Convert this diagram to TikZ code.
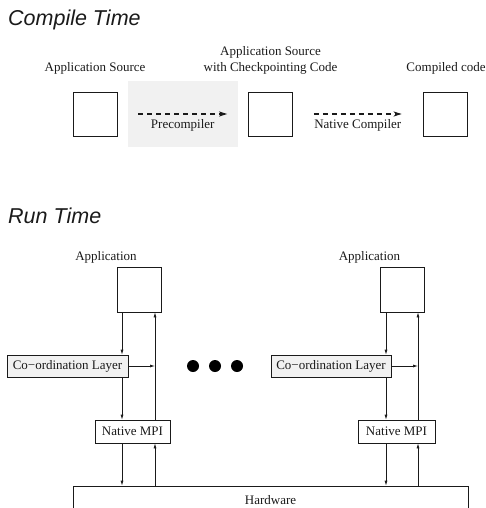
\documentclass[tikz,border=0pt]{standalone}
\usepackage{fontspec}
\setmainfont{Liberation Serif}
\newfontfamily\headfont{Liberation Sans}
\usetikzlibrary{arrows.meta,positioning}
\definecolor{shade}{HTML}{F1F1F1}
\definecolor{ink}{HTML}{1A1A1A}

\begin{document}
\begin{tikzpicture}[x=1pt,y=-1pt,
  every node/.style={font=\fontsize{13}{16}\selectfont,text=ink},
  file/.style={draw=ink,line width=0.7pt,minimum width=44pt,minimum height=44pt,inner sep=0pt},
  layer/.style={draw=ink,line width=0.7pt,inner sep=0pt,minimum height=22pt},
  caption/.style={inner sep=0pt,align=center},
  head/.style={anchor=base west,inner sep=0pt,font=\headfont\itshape\fontsize{21.5}{24}\selectfont},
  dot/.style={circle,fill=black,minimum size=12pt,inner sep=0pt},
  pass/.style={-{Stealth[length=8pt,width=5pt,inset=2pt]},draw=ink,line width=1.4pt,dash pattern=on 5pt off 4pt,shorten <=21pt,shorten >=21pt},
  arrow/.style={-{Latex[length=5pt,width=3pt]},draw=ink,line width=0.7pt}
]
  \useasboundingbox (0,0) rectangle (486,508);

  % compile time
  \node[head] (ct) at (8,26) {Compile Time};
  \node[fill=shade,minimum width=110pt,minimum height=66pt] (pre) at (183,114) {};
  \node[file] (src) at (95,114) {};
  \node[file] (chk) at (270.5,114) {};
  \node[file] (bin) at (445,114) {};
  \node[caption,above=17pt of src] (srcl) {Application Source};
  \node[caption,above=17pt of chk] (chkl) {Application Source\\with Checkpointing Code};
  \node[caption,above=17pt of bin,xshift=1pt] (binl) {Compiled code};
  \draw[pass] (src.east) -- node[caption,anchor=north,yshift=-5pt] (prel) {Precompiler} (chk.west);
  \draw[pass] (chk.east) -- node[caption,anchor=north,yshift=-5pt] (ncl) {Native Compiler} (bin.west);

  % run time
  \node[head] (rt) at (8,223) {Run Time};
  \node[file,minimum height=45pt] (app1) at (139,289.5) {};
  \node[file,minimum height=45pt] (app2) at (402.5,289.5) {};
  \node[caption,above=3pt of app1,xshift=-33pt] (app1l) {Application};
  \node[caption,above=3pt of app2,xshift=-33pt] (app2l) {Application};
  \node[layer,fill=shade,minimum width=121pt] (crd1) at (67.5,366) {Co−ordination Layer};
  \node[layer,fill=shade,minimum width=120pt] (crd2) at (331,366) {Co−ordination Layer};
  \node[layer,minimum width=75pt,minimum height=23pt] (mpi1) at (132.5,431.5) {Native MPI};
  \node[layer,minimum width=77pt,minimum height=23pt] (mpi2) at (396.5,431.5) {Native MPI};
  \node[layer,minimum width=395pt,minimum height=28pt] (hw) at (270.5,500) {Hardware};
  \node[dot] (d1) at (193,366) {};
  \node[dot] (d2) at (215,366) {};
  \node[dot] (d3) at (237,366) {};

  \coordinate (dn1) at (122,0);
  \coordinate (up1) at (155,0);
  \coordinate (dn2) at (386,0);
  \coordinate (up2) at (418,0);

  \draw[arrow] (app1.south -| dn1) -- (crd1.north -| dn1);
  \draw[arrow] (crd1.south -| dn1) -- (mpi1.north -| dn1);
  \draw[arrow] (mpi1.south -| dn1) -- (hw.north -| dn1);
  \draw[arrow] (hw.north -| up1) -- (mpi1.south -| up1);
  \draw[arrow] (mpi1.north -| up1) -- (app1.south -| up1);
  \draw[arrow] (crd1.east) -- (crd1.east -| up1);

  \draw[arrow] (app2.south -| dn2) -- (crd2.north -| dn2);
  \draw[arrow] (crd2.south -| dn2) -- (mpi2.north -| dn2);
  \draw[arrow] (mpi2.south -| dn2) -- (hw.north -| dn2);
  \draw[arrow] (hw.north -| up2) -- (mpi2.south -| up2);
  \draw[arrow] (mpi2.north -| up2) -- (app2.south -| up2);
  \draw[arrow] (crd2.east) -- (crd2.east -| up2);
\end{tikzpicture}
\end{document}
